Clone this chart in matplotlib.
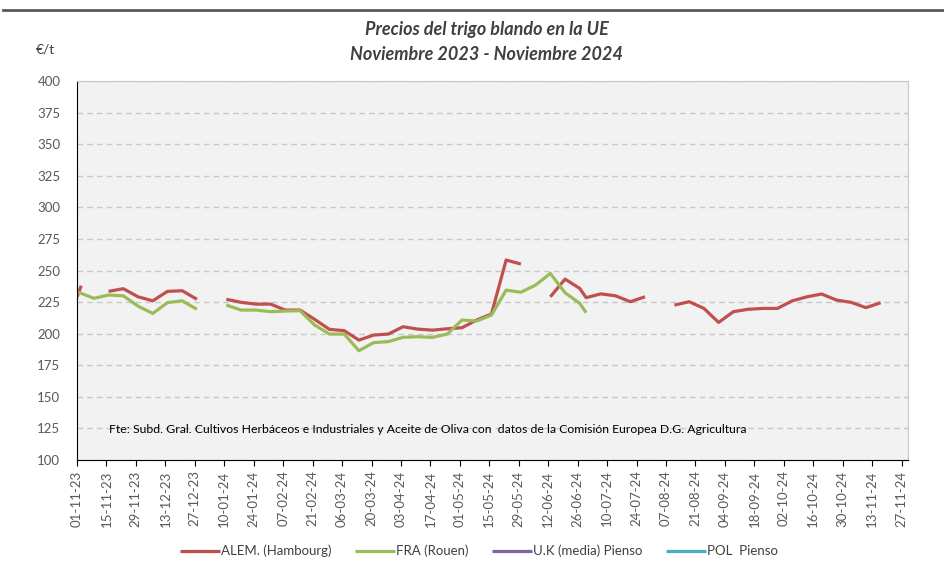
import matplotlib
matplotlib.use("Agg")
import matplotlib.pyplot as plt
import matplotlib.dates as mdates
import numpy as np
import pandas as pd

plt.rcParams['font.family'] = ['Lato', 'DejaVu Sans']

# datos (None = hueco en la serie)
alem_dates = ["2023-11-01", "2023-11-03", None,
              "2023-11-16", "2023-11-23", "2023-11-30", "2023-12-07", "2023-12-14", "2023-12-21", "2023-12-28", None,
              "2024-01-11", "2024-01-18", "2024-01-25", "2024-02-01", "2024-02-08", "2024-02-15", "2024-02-22",
              "2024-02-29", "2024-03-07", "2024-03-14", "2024-03-21", "2024-03-28", "2024-04-04", "2024-04-11",
              "2024-04-18", "2024-04-25", "2024-05-02", "2024-05-09", "2024-05-16", "2024-05-23", "2024-05-30", None,
              "2024-06-13", "2024-06-20", "2024-06-27", "2024-06-30", "2024-07-07", "2024-07-14", "2024-07-21",
              "2024-07-28", None,
              "2024-08-11", "2024-08-18", "2024-08-25", "2024-09-01", "2024-09-08", "2024-09-15", "2024-09-22",
              "2024-09-29", "2024-10-06", "2024-10-13", "2024-10-20", "2024-10-27", "2024-11-03", "2024-11-10",
              "2024-11-17"]
alem_vals = [229, 238, None,
             233.5, 235.6, 229.2, 226, 233.5, 234, 227.2, None,
             227.2, 224.8, 223.4, 223.4, 218.7, 218.7, 211.3, 203.4, 202.4, 194.9, 198.9, 199.7, 205.5, 203.6,
             202.8, 203.9, 204.7, 210.8, 215.6, 258.3, 255.1, None,
             229.2, 243.2, 235.8, 228.5, 231.5, 230, 225.3, 229.2, None,
             222.6, 225.3, 220, 208.9, 217.4, 219.3, 220, 220, 226, 229.2, 231.4, 226.6, 224.8, 220.6, 224.5]

fra_dates = ["2023-11-01", "2023-11-09", "2023-11-16", "2023-11-23", "2023-11-30", "2023-12-07", "2023-12-14",
             "2023-12-21", "2023-12-28", None,
             "2024-01-11", "2024-01-18", "2024-01-25", "2024-02-01", "2024-02-08", "2024-02-15", "2024-02-22",
             "2024-02-29", "2024-03-07", "2024-03-14", "2024-03-21", "2024-03-28", "2024-04-04", "2024-04-11",
             "2024-04-18", "2024-04-25", "2024-05-02", "2024-05-09", "2024-05-16", "2024-05-23", "2024-05-30",
             "2024-06-06", "2024-06-13", "2024-06-20", "2024-06-27", "2024-06-30"]
fra_vals = [233.2, 228, 230.6, 230, 221.8, 216, 224.6, 226, 219.3, None,
            222.6, 218.7, 218.7, 217.4, 217.9, 218.2, 206.8, 199.7, 199.7, 186.5, 192.9, 193.7, 197.1, 197.6,
            197.1, 199.7, 210.8, 210, 214.7, 234.5, 232.8, 238.5, 247.7, 232.4, 224, 216.6]

uk_dates, uk_vals = [], []
pol_dates, pol_vals = [], []

series = [("ALEM. (Hambourg)", alem_dates, alem_vals, "#C0504D"),
          ("FRA (Rouen)", fra_dates, fra_vals, "#9BBB59"),
          ("U.K (media) Pienso", uk_dates, uk_vals, "#8064A2"),
          ("POL  Pienso", pol_dates, pol_vals, "#4BACC6")]

fig = plt.figure(figsize=(9.45, 5.71), dpi=100)
ax = fig.add_axes([0.0815, 0.1944, 0.8793, 0.6637])
ax.set_facecolor("#F2F2F2")

for name, d, v, col in series:
    x = pd.to_datetime(pd.Series(d, dtype=object))
    y = np.array([np.nan if val is None else val for val in v], dtype=float)
    ax.plot(x, y, color=col, lw=2.3, label=name, solid_capstyle="butt")

start = pd.Timestamp("2023-11-01")
ax.set_xlim(start, pd.Timestamp("2024-11-30"))
ax.set_ylim(100, 400)
ax.set_yticks(np.arange(100, 401, 25))
ticks = pd.date_range(start, pd.Timestamp("2024-11-27"), freq="14D")
ax.set_xticks(ticks)
ax.xaxis.set_major_formatter(mdates.DateFormatter("%d-%m-%y"))
ax.tick_params(axis="x", rotation=90, labelsize=9.5, colors="#595959", length=4, color="black")
ax.tick_params(axis="y", labelsize=9.5, colors="#595959", length=0, pad=12)

ax.grid(axis="y", color="#C8C8C8", ls=(0, (4, 3)), lw=1)
ax.set_axisbelow(True)
for s in ["top", "right"]:
    ax.spines[s].set_color("#C8C8C8")
for s in ["left", "bottom"]:
    ax.spines[s].set_color("black")

ax.text(pd.Timestamp("2023-11-16"), 124, "Fte: Subd. Gral. Cultivos Herbáceos e Industriales y Aceite de Oliva con  datos de la Comisión Europea D.G. Agricultura",
        fontsize=8.8, va="center", ha="left", color="black")

fig.text(0.515, 0.948, "Precios del trigo blando en la UE", ha="center", va="center",
         fontsize=13, fontweight="bold", style="italic", color="#404040")
fig.text(0.515, 0.905, "Noviembre 2023 - Noviembre 2024", ha="center", va="center",
         fontsize=13, fontweight="bold", style="italic", color="#404040")
fig.text(0.048, 0.914, "€/t", ha="center", va="center", fontsize=10, color="#404040")

fig.add_artist(plt.Line2D([0.003, 1.0], [0.982, 0.982], color="#595959", lw=2))

fig.legend(loc="center", bbox_to_anchor=(0.507, 0.035), ncol=4, frameon=False, fontsize=9.5,
           handlelength=3.0, handletextpad=0.1, columnspacing=1.8, labelcolor="#404040")

fig.savefig("out.png", dpi=100)
